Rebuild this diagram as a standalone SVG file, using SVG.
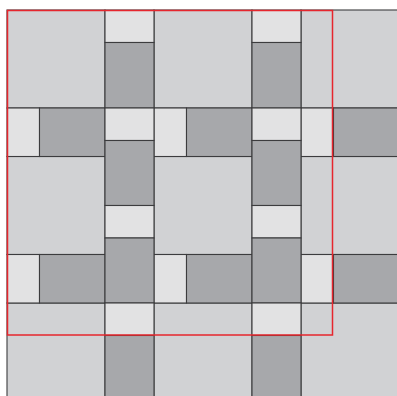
<svg xmlns="http://www.w3.org/2000/svg" width="397" height="396" viewBox="0 0 397 396">
<style>
.t{stroke:#3c3c3e;stroke-width:1.1}
.s{fill:#d1d2d4}
.l{fill:#e2e2e3}
.d{fill:#a7a8ab}
</style>
<rect width="397" height="396" fill="#ffffff"/>
<g id="squares">
<rect class="t s" x="7" y="10" width="98" height="98"/>
<rect class="t s" x="154" y="10" width="98" height="98"/>
<rect class="t s" x="301" y="10" width="100" height="98"/>
<rect class="t s" x="7" y="156.5" width="98" height="98"/>
<rect class="t s" x="154" y="156.5" width="98" height="98"/>
<rect class="t s" x="301" y="156.5" width="100" height="98"/>
<rect class="t s" x="7" y="303" width="98" height="100"/>
<rect class="t s" x="154" y="303" width="98" height="100"/>
<rect class="t s" x="301" y="303" width="100" height="100"/>
</g>
<g id="rows">
<rect class="t l" x="7" y="108" width="32.5" height="48.5"/>
<rect class="t d" x="39.5" y="108" width="65.5" height="48.5"/>
<rect class="t l" x="154" y="108" width="32.5" height="48.5"/>
<rect class="t d" x="186.5" y="108" width="65.5" height="48.5"/>
<rect class="t l" x="301" y="108" width="32.5" height="48.5"/>
<rect class="t d" x="333.5" y="108" width="67" height="48.5"/>
<rect class="t l" x="7" y="254.5" width="32.5" height="48.5"/>
<rect class="t d" x="39.5" y="254.5" width="65.5" height="48.5"/>
<rect class="t l" x="154" y="254.5" width="32.5" height="48.5"/>
<rect class="t d" x="186.5" y="254.5" width="65.5" height="48.5"/>
<rect class="t l" x="301" y="254.5" width="32.5" height="48.5"/>
<rect class="t d" x="333.5" y="254.5" width="67" height="48.5"/>
</g>
<g id="columns">
<rect class="t l" x="105" y="10" width="49" height="32.5"/>
<rect class="t d" x="105" y="42.5" width="49" height="65.5"/>
<rect class="t l" x="105" y="108" width="49" height="32.5"/>
<rect class="t d" x="105" y="140.5" width="49" height="65"/>
<rect class="t l" x="105" y="205.5" width="49" height="32.5"/>
<rect class="t d" x="105" y="238" width="49" height="65"/>
<rect class="t l" x="105" y="303" width="49" height="32.5"/>
<rect class="t d" x="105" y="335.5" width="49" height="66"/>
<rect class="t l" x="252" y="10" width="49" height="32.5"/>
<rect class="t d" x="252" y="42.5" width="49" height="65.5"/>
<rect class="t l" x="252" y="108" width="49" height="32.5"/>
<rect class="t d" x="252" y="140.5" width="49" height="65"/>
<rect class="t l" x="252" y="205.5" width="49" height="32.5"/>
<rect class="t d" x="252" y="238" width="49" height="65"/>
<rect class="t l" x="252" y="303" width="49" height="32.5"/>
<rect class="t d" x="252" y="335.5" width="49" height="66"/>
</g>
<g id="frame">
<rect x="7.5" y="10.5" width="325" height="324.5" fill="none" stroke="#e6262d" stroke-width="1.5"/>
</g>
</svg>
